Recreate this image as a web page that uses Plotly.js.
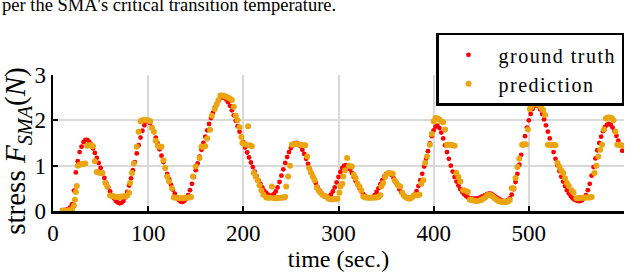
<!DOCTYPE html>
<html>
<head>
<meta charset="utf-8">
<script src="https://cdn.plot.ly/plotly-3.0.1.min.js"></script>
<style>
html,body{margin:0;padding:0;background:#fff;}
#chart{width:640px;height:273px;}
.legendtext{letter-spacing:1.5px;}
</style>
</head>
<body>
<div id="chart"></div>
<script>
// Ground truth: sampled every 2 s starting at t = 10 s
const gtStart = 10;
const gtStep = 2;
const gtValues = [
0.02,0.02,0.03,0.04,0.08,0.15,0.45,0.85,1.10,1.30,
1.42,1.52,1.57,1.57,1.53,1.47,1.38,1.28,1.17,1.06,
0.95,0.84,0.73,0.62,0.52,0.43,0.35,0.28,0.22,0.19,
0.17,0.18,0.22,0.30,0.42,0.56,0.72,0.90,1.08,1.27,
1.45,1.62,1.77,1.89,1.97,1.99,1.94,1.85,1.74,1.62,
1.49,1.36,1.22,1.08,0.95,0.82,0.70,0.58,0.47,0.38,
0.30,0.24,0.21,0.20,0.22,0.27,0.35,0.46,0.60,0.75,
0.90,1.05,1.20,1.35,1.50,1.64,1.78,1.92,2.05,2.17,
2.28,2.37,2.44,2.49,2.51,2.50,2.46,2.40,2.32,2.22,
2.11,1.99,1.87,1.75,1.63,1.52,1.40,1.29,1.18,1.07,
0.97,0.87,0.77,0.68,0.60,0.52,0.45,0.40,0.36,0.34,
0.34,0.37,0.43,0.52,0.64,0.78,0.92,1.06,1.19,1.30,
1.39,1.45,1.49,1.50,1.48,1.43,1.35,1.26,1.15,1.04,
0.93,0.82,0.72,0.62,0.53,0.46,0.40,0.35,0.32,0.31,
0.32,0.36,0.43,0.52,0.63,0.75,0.86,0.95,1.00,1.01,
0.98,0.92,0.84,0.75,0.66,0.58,0.50,0.43,0.37,0.33,
0.30,0.29,0.29,0.31,0.35,0.42,0.50,0.59,0.68,0.76,
0.82,0.84,0.83,0.79,0.72,0.64,0.56,0.48,0.41,0.36,
0.32,0.30,0.29,0.29,0.31,0.36,0.44,0.55,0.68,0.82,
0.98,1.15,1.32,1.49,1.65,1.78,1.86,1.88,1.83,1.73,
1.60,1.45,1.30,1.15,1.00,0.87,0.75,0.65,0.56,0.48,
0.42,0.37,0.33,0.30,0.28,0.27,0.27,0.27,0.28,0.29,
0.31,0.33,0.35,0.37,0.38,0.38,0.36,0.33,0.30,0.27,
0.25,0.23,0.22,0.22,0.24,0.28,0.36,0.48,0.64,0.82,
1.02,1.24,1.45,1.65,1.84,2.00,2.14,2.25,2.32,2.34,
2.31,2.24,2.14,2.02,1.89,1.75,1.60,1.45,1.30,1.15,
1.01,0.88,0.76,0.65,0.55,0.46,0.39,0.33,0.28,0.25,
0.23,0.22,0.22,0.24,0.28,0.35,0.46,0.60,0.78,0.97,
1.16,1.34,1.50,1.64,1.76,1.85,1.90,1.92,1.90,1.84,
1.76,1.66,1.55,1.44,1.33
];
const gtTime = gtValues.map((_, i) => gtStart + gtStep * i);

// Prediction: time stamps and values
const predTime = [
10,12,14,16,18,20,22,23,24,25,26,28,30,32,34,36,38,40,42,44,46,48,50,52,55,57,60,62,64,66,68,70,72,74,76,78,80,81,83,85,88,90,92,94,96,98,100,102,104,106,108,110,112,114,116,118,120,122,125,127,129,131,133,135,137,139,141,143,145,147,150,154,156,158,160,162,165,167,170,172,174,176,178,180,182,184,186,188,190,192,194,196,198,199,201,203,205,207,209,211,213,215,217,219,221,224,226,228,230,232,234,236,238,240,242,244,245,247,249,251,253,255,257,259,261,263,265,267,269,271,273,275,277,279,281,283,285,287,289,291,293,295,297,299,301,302,304,305,307,309,311,314,316,318,320,322,324,326,328,330,332,334,336,338,340,342,344,345,347,349,351,353,355,357,359,361,363,365,367,369,371,373,375,377,379,381,383,385,387,389,391,393,396,398,400,402,404,406,408,410,412,414,416,418,420,422,424,426,428,431,433,436,438,440,442,444,446,448,450,452,454,456,458,460,462,464,466,468,470,472,474,476,478,480,482,484,486,488,490,493,495,497,499,501,503,505,507,509,511,513,515,517,520,522,524,526,528,530,532,534,536,538,540,542,545,547,550,552,554,556,558,560,562,564,566,569,571,573,575,577,579,581,583,585,587,589,591,593,595,597,599
];
const predValues = [
0.01,0.00,0.00,0.01,0.02,0.04,0.12,0.25,0.42,0.55,1.00,1.02,1.03,1.04,1.05,1.44,1.45,1.45,1.43,1.10,0.86,0.85,0.84,0.84,0.62,0.54,0.34,0.33,0.32,0.31,0.31,0.31,0.32,0.32,0.33,0.34,0.40,0.62,0.84,1.05,1.42,1.75,1.98,2.00,2.01,2.00,2.00,1.98,1.83,1.75,1.55,1.44,1.42,1.42,1.12,0.95,0.76,0.65,0.50,0.30,0.29,0.29,0.28,0.28,0.28,0.29,0.29,0.30,0.31,0.76,0.98,1.17,1.42,1.42,1.43,1.60,1.79,2.10,2.25,2.35,2.45,2.55,2.55,2.54,2.52,2.50,2.48,2.45,2.30,2.10,2.00,1.85,1.63,1.50,1.48,1.46,1.87,1.45,1.43,0.84,0.76,0.68,0.57,0.45,0.36,0.30,0.29,0.29,0.54,0.28,0.28,0.28,0.29,0.29,0.30,0.31,0.54,0.76,1.00,1.46,1.47,1.47,1.47,1.46,1.46,1.45,1.45,1.20,0.95,0.85,0.76,0.68,0.52,0.45,0.40,0.36,0.33,0.32,0.28,0.26,0.26,0.26,0.27,0.27,0.40,0.54,0.60,0.76,0.90,1.17,1.00,0.98,0.80,0.72,0.60,0.54,0.45,0.32,0.30,0.30,0.29,0.29,0.29,0.30,0.30,0.31,0.35,0.54,0.62,0.75,0.82,0.83,0.83,0.82,0.68,0.62,0.56,0.54,0.40,0.33,0.30,0.28,0.27,0.30,0.34,0.35,0.35,0.36,0.60,0.68,1.06,1.20,1.46,1.70,1.98,2.05,2.04,2.02,1.98,1.96,1.80,1.46,1.46,1.46,1.45,1.44,0.84,0.75,0.65,0.46,0.45,0.42,0.25,0.24,0.23,0.22,0.22,0.23,0.24,0.27,0.30,0.34,0.36,0.35,0.32,0.28,0.25,0.22,0.21,0.20,0.20,0.20,0.21,0.24,0.50,0.50,0.73,0.97,1.15,1.46,1.47,1.47,1.80,2.25,2.30,2.36,2.38,2.36,2.33,2.28,2.23,2.12,1.46,1.46,1.46,1.46,1.45,1.06,0.98,0.90,0.84,0.72,0.62,0.55,0.45,0.40,0.28,0.28,0.29,0.29,0.29,0.30,0.30,0.30,0.31,0.84,1.00,1.20,1.35,1.46,1.80,2.04,2.06,2.06,2.05,2.00,1.75,1.46,1.46,1.45,1.44
];

const xTicks = [0,100,200,300,400,500,600];
const yTicks = [0,1,2,3];
const seriesNames = ['ground truth','prediction'];
const topCaption = "per the SMA's critical transition temperature.";

const FONT = '"Liberation Serif", "Times New Roman", serif';

const traces = [
  {
    x: gtTime, y: gtValues, type: 'scatter', mode: 'markers', name: seriesNames[0],
    marker: {color: '#ff0000', size: 4.8},
    cliponaxis: true
  },
  {
    x: predTime, y: predValues, type: 'scatter', mode: 'markers', name: seriesNames[1],
    marker: {color: '#eba510', size: 6},
    cliponaxis: true
  }
];

const axisCommon = {
  showgrid: true, gridcolor: '#d9d9d9', gridwidth: 2,
  showline: true, linecolor: '#000', linewidth: 2.5, mirror: false,
  ticks: 'inside', ticklen: 5, tickwidth: 2, tickcolor: '#000',
  zeroline: false,
  tickfont: {family: FONT, size: 23, color: '#000'}
};

const layout = {
  width: 640, height: 273,
  margin: {l: 53, r: 16, t: 75, b: 62},
  paper_bgcolor: '#fff', plot_bgcolor: '#fff',
  showlegend: true,
  font: {family: FONT, color: '#000'},
  xaxis: Object.assign({}, axisCommon, {
    range: [0, 600], tickvals: xTicks, ticktext: xTicks.map(String),
    title: {text: 'time (sec.)', font: {family: FONT, size: 24, color: '#000'}, standoff: 3}
  }),
  yaxis: Object.assign({}, axisCommon, {
    range: [0, 3], tickvals: yTicks, ticktext: yTicks.map(String)
  }),
  legend: {
    x: 1, xanchor: 'right', xref: 'paper',
    y: 1.31, yanchor: 'top', yref: 'paper',
    bgcolor: '#fff', bordercolor: '#000', borderwidth: 2.5,
    font: {family: FONT, size: 20, color: '#000'},
    itemwidth: 50, tracegroupgap: 0
  },
  annotations: [
    {
      text: 'stress <i>F</i><sub><i>SMA</i></sub>(<i>N</i>)',
      textangle: -90, xref: 'paper', yref: 'paper',
      x: -0.062, y: 0.44, xanchor: 'center', yanchor: 'middle',
      showarrow: false, font: {family: FONT, size: 29, color: '#000'}
    },
    {
      text: topCaption, xref: 'paper', yref: 'paper',
      x: -0.093, y: 1.425, xanchor: 'left', yanchor: 'bottom',
      showarrow: false, font: {family: FONT, size: 18.5, color: '#000'}
    }
  ]
};

Plotly.newPlot('chart', traces, layout, {staticPlot: true, displayModeBar: false});
</script>
</body>
</html>
